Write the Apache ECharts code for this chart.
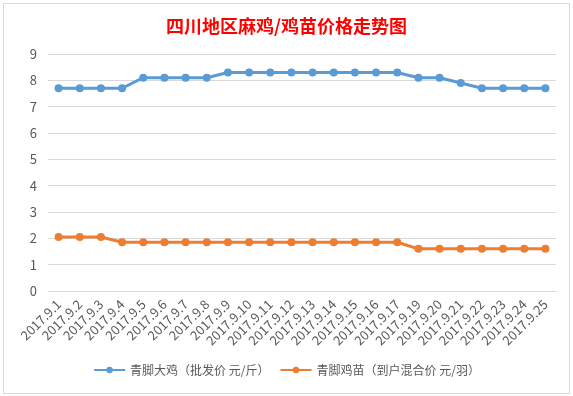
<!DOCTYPE html>
<html>
<head>
<meta charset="utf-8">
<script src="https://cdn.jsdelivr.net/npm/echarts@6/dist/echarts.min.js"></script>
<style>
  html, body { margin: 0; padding: 0; background: #fff; }
  #frame { position: absolute; left: 3px; top: 3px; width: 565px; height: 389px; border: 1px solid #d9d9d9; }
  #chart { position: absolute; left: 0; top: 0; width: 573px; height: 396px; }
</style>
</head>
<body>
<div id="frame"></div>
<div id="chart"></div>
<script>
const dates = ['2017.9.1', '2017.9.2', '2017.9.3', '2017.9.4', '2017.9.5', '2017.9.6', '2017.9.7', '2017.9.8',
  '2017.9.9', '2017.9.10', '2017.9.11', '2017.9.12', '2017.9.13', '2017.9.14', '2017.9.15', '2017.9.16',
  '2017.9.17', '2017.9.19', '2017.9.20', '2017.9.21', '2017.9.22', '2017.9.23', '2017.9.24', '2017.9.25']
// 青脚大鸡 批发价
const chickenPrice = [7.7, 7.7, 7.7, 7.7, 8.1, 8.1, 8.1, 8.1, 8.3, 8.3, 8.3, 8.3, 8.3, 8.3, 8.3, 8.3,
  8.3, 8.1, 8.1, 7.9, 7.7, 7.7, 7.7, 7.7]
// 青脚鸡苗 到户混合价
const chickPrice = [2.05, 2.05, 2.05, 1.85, 1.85, 1.85, 1.85, 1.85, 1.85, 1.85, 1.85, 1.85, 1.85, 1.85, 1.85, 1.85,
  1.85, 1.6, 1.6, 1.6, 1.6, 1.6, 1.6, 1.6]
const seriesNames = ['青脚大鸡（批发价 元/斤）', '青脚鸡苗（到户混合价 元/羽）']

const font = 'Noto Sans CJK SC'
const chart = echarts.init(document.getElementById('chart'))
chart.setOption({
  animation: false,
  textStyle: { fontFamily: font },
  title: {
    text: '四川地区麻鸡/鸡苗价格走势图',
    left: 'center',
    top: 12,
    textStyle: { color: '#ff0000', fontSize: 18, fontWeight: 'bold', fontFamily: font }
  },
  legend: {
    data: seriesNames,
    bottom: 15,
    left: 'center',
    itemWidth: 31,
    itemHeight: 8,
    itemGap: 10,
    textStyle: { color: '#595959', fontSize: 12, fontFamily: font }
  },
  grid: { left: 48, right: 17, top: 54, bottom: 105 },
  xAxis: {
    type: 'category',
    data: dates,
    axisTick: { show: false },
    axisLine: { lineStyle: { color: '#d9d9d9' } },
    axisLabel: { rotate: 45, color: '#595959', fontSize: 13, margin: 11, interval: 0 }
  },
  yAxis: {
    type: 'value',
    min: 0,
    max: 9,
    interval: 1,
    axisLine: { show: false },
    axisTick: { show: false },
    splitLine: { lineStyle: { color: '#d9d9d9' } },
    axisLabel: { color: '#595959', fontSize: 13, margin: 11 }
  },
  series: [
    {
      name: seriesNames[0],
      type: 'line',
      data: chickenPrice,
      symbol: 'circle',
      symbolSize: 8,
      color: '#5b9bd5',
      lineStyle: { width: 3, color: '#5b9bd5' }
    },
    {
      name: seriesNames[1],
      type: 'line',
      data: chickPrice,
      symbol: 'circle',
      symbolSize: 8,
      color: '#ed7d31',
      lineStyle: { width: 3, color: '#ed7d31' }
    }
  ]
})
</script>
</body>
</html>
